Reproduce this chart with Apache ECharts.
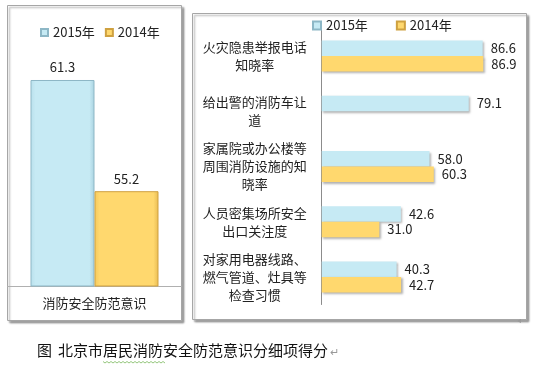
<!DOCTYPE html>
<html><head><meta charset="utf-8">
<script src="https://cdn.jsdelivr.net/npm/echarts@6/dist/echarts.min.js"></script>
<style>html,body{margin:0;padding:0;background:#fff}#c{width:538px;height:369px}</style>
</head><body><div id="c"></div>
<script>
var seriesNames = ['2015年', '2014年'];
var leftCategories = ['消防安全防范意识'];
var left2015 = [61.3];
var left2014 = [55.2];
var rightCategories = ['火灾隐患举报电话\n知晓率', '给出警的消防车让\n道', '家属院或办公楼等\n周围消防设施的知\n晓率', '人员密集场所安全\n出口关注度', '对家用电器线路、\n燃气管道、灶具等\n检查习惯'];
var right2015 = [86.6, 79.1, 58.0, 42.6, 40.3];
var right2014 = [86.9, null, 60.3, 31.0, 42.7];
var captionHead = '图';
var captionBody = '北京市居民消防安全防范意识分细项得分';

var FONT = '"Noto Sans CJK SC","Noto Sans",sans-serif';
var BLUE = '#C6EAF4', YEL = '#FFD86E';
var chart = echarts.init(document.getElementById('c'), null, {renderer: 'canvas'});
var fmt1 = function (p) { return p.value == null ? '' : Number(p.value).toFixed(1); };
chart.setOption({
  animation: false,
  textStyle: {fontFamily: FONT},
  graphic: [
    {type: 'rect', z: -10, shape: {x: 7.5, y: 5.5, width: 174, height: 315}, style: {fill: '#fff', stroke: '#a6a6a6', lineWidth: 1, shadowColor: 'rgba(0,0,0,0.35)', shadowOffsetX: 2, shadowOffsetY: 2, shadowBlur: 2}},
    {type: 'rect', z: -10, shape: {x: 192.5, y: 13.5, width: 334, height: 306}, style: {fill: '#fff', stroke: '#a6a6a6', lineWidth: 1, shadowColor: 'rgba(0,0,0,0.35)', shadowOffsetX: 2, shadowOffsetY: 2, shadowBlur: 2}},
    {type: 'text', left: 37, top: 343, style: {text: captionHead, font: '15px ' + FONT, fill: '#111'}},
    {type: 'text', left: 58, top: 343, style: {text: captionBody, font: '15px ' + FONT, fill: '#111'}},
    {type: 'text', left: 330, top: 346, style: {text: '↵', font: '11px ' + FONT, fill: '#999'}},
    {type: 'text', left: 517, top: 316, style: {text: '◂', font: '8px ' + FONT, fill: '#999'}},
    {type: 'polyline', shape: {points: (function(){var a=[];for(var x=103;x<=165;x+=2){a.push([x, 362 + ((x-103)/2 % 2 ? 1 : -0.5)]);}return a;})()}, style: {stroke: '#7ab85a', lineWidth: 0.8, fill: null}}
  ],
  legend: [
    {left: 35, top: 21, itemWidth: 7, itemHeight: 7, itemGap: 10, icon: 'rect', textStyle: {fontSize: 13, color: '#222', fontFamily: FONT}, data: seriesNames, selectedMode: false},
    {left: 307, top: 14, itemWidth: 8, itemHeight: 8, itemGap: 28, icon: 'rect', textStyle: {fontSize: 13, color: '#222', fontFamily: FONT}, data: seriesNames, selectedMode: false}
  ],
  grid: [
    {left: 7.5, width: 174, top: 49, bottom: 83, containLabel: false},
    {left: 321.7, right: 30.4, top: 28.5, bottom: 64.5, containLabel: false}
  ],
  xAxis: [
    {gridIndex: 0, type: 'category', data: leftCategories, axisLine: {lineStyle: {color: '#b0b0b0'}}, axisTick: {show: false}, axisLabel: {fontSize: 13, color: '#222', margin: 11, fontFamily: FONT}},
    {gridIndex: 1, type: 'value', min: 0, max: 100, show: false, splitLine: {show: false}}
  ],
  yAxis: [
    {gridIndex: 0, type: 'value', min: 50, max: 63, show: false, splitLine: {show: false}},
    {gridIndex: 1, type: 'category', inverse: true, data: rightCategories, axisLine: {lineStyle: {color: '#8c8c8c'}}, axisTick: {show: false}, axisLabel: {fontSize: 13, color: '#222', align: 'center', margin: 67, lineHeight: 18, fontFamily: FONT}}
  ],
  series: [
    {name: seriesNames[0], type: 'bar', xAxisIndex: 0, yAxisIndex: 0, data: left2015, barWidth: 64, barGap: '0%',
     itemStyle: {color: {type: 'linear', x: 0, y: 0, x2: 1, y2: 0, colorStops: [{offset: 0, color: '#B9E0EC'}, {offset: 0.08, color: BLUE}, {offset: 0.92, color: BLUE}, {offset: 1, color: '#A9D2E0'}]}, borderColor: '#8DB7C6', borderWidth: 1},
     label: {show: true, position: 'top', distance: 6, fontSize: 13, color: '#222', fontFamily: FONT, formatter: fmt1}},
    {name: seriesNames[1], type: 'bar', xAxisIndex: 0, yAxisIndex: 0, data: left2014, barWidth: 64, barGap: '0%',
     itemStyle: {color: {type: 'linear', x: 0, y: 0, x2: 1, y2: 0, colorStops: [{offset: 0, color: '#F5C95C'}, {offset: 0.08, color: YEL}, {offset: 0.92, color: YEL}, {offset: 1, color: '#E9BC52'}]}, borderColor: '#CFA140', borderWidth: 1},
     label: {show: true, position: 'top', distance: 6, fontSize: 13, color: '#222', fontFamily: FONT, formatter: fmt1}},
    {name: seriesNames[0], type: 'bar', xAxisIndex: 1, yAxisIndex: 1, data: right2015, barWidth: 15.5, barGap: '0%',
     itemStyle: {color: BLUE, shadowColor: 'rgba(0,0,0,0.3)', shadowOffsetX: 1.5, shadowOffsetY: 1.5, shadowBlur: 2},
     label: {show: true, position: 'right', distance: 8, fontSize: 13, color: '#222', fontFamily: FONT, formatter: fmt1}},
    {name: seriesNames[1], type: 'bar', xAxisIndex: 1, yAxisIndex: 1, data: right2014, barWidth: 15.5, barGap: '0%',
     itemStyle: {color: YEL, shadowColor: 'rgba(0,0,0,0.3)', shadowOffsetX: 1.5, shadowOffsetY: 1.5, shadowBlur: 2},
     label: {show: true, position: 'right', distance: 8, fontSize: 13, color: '#222', fontFamily: FONT, formatter: fmt1}}
  ]
});
</script></body></html>
